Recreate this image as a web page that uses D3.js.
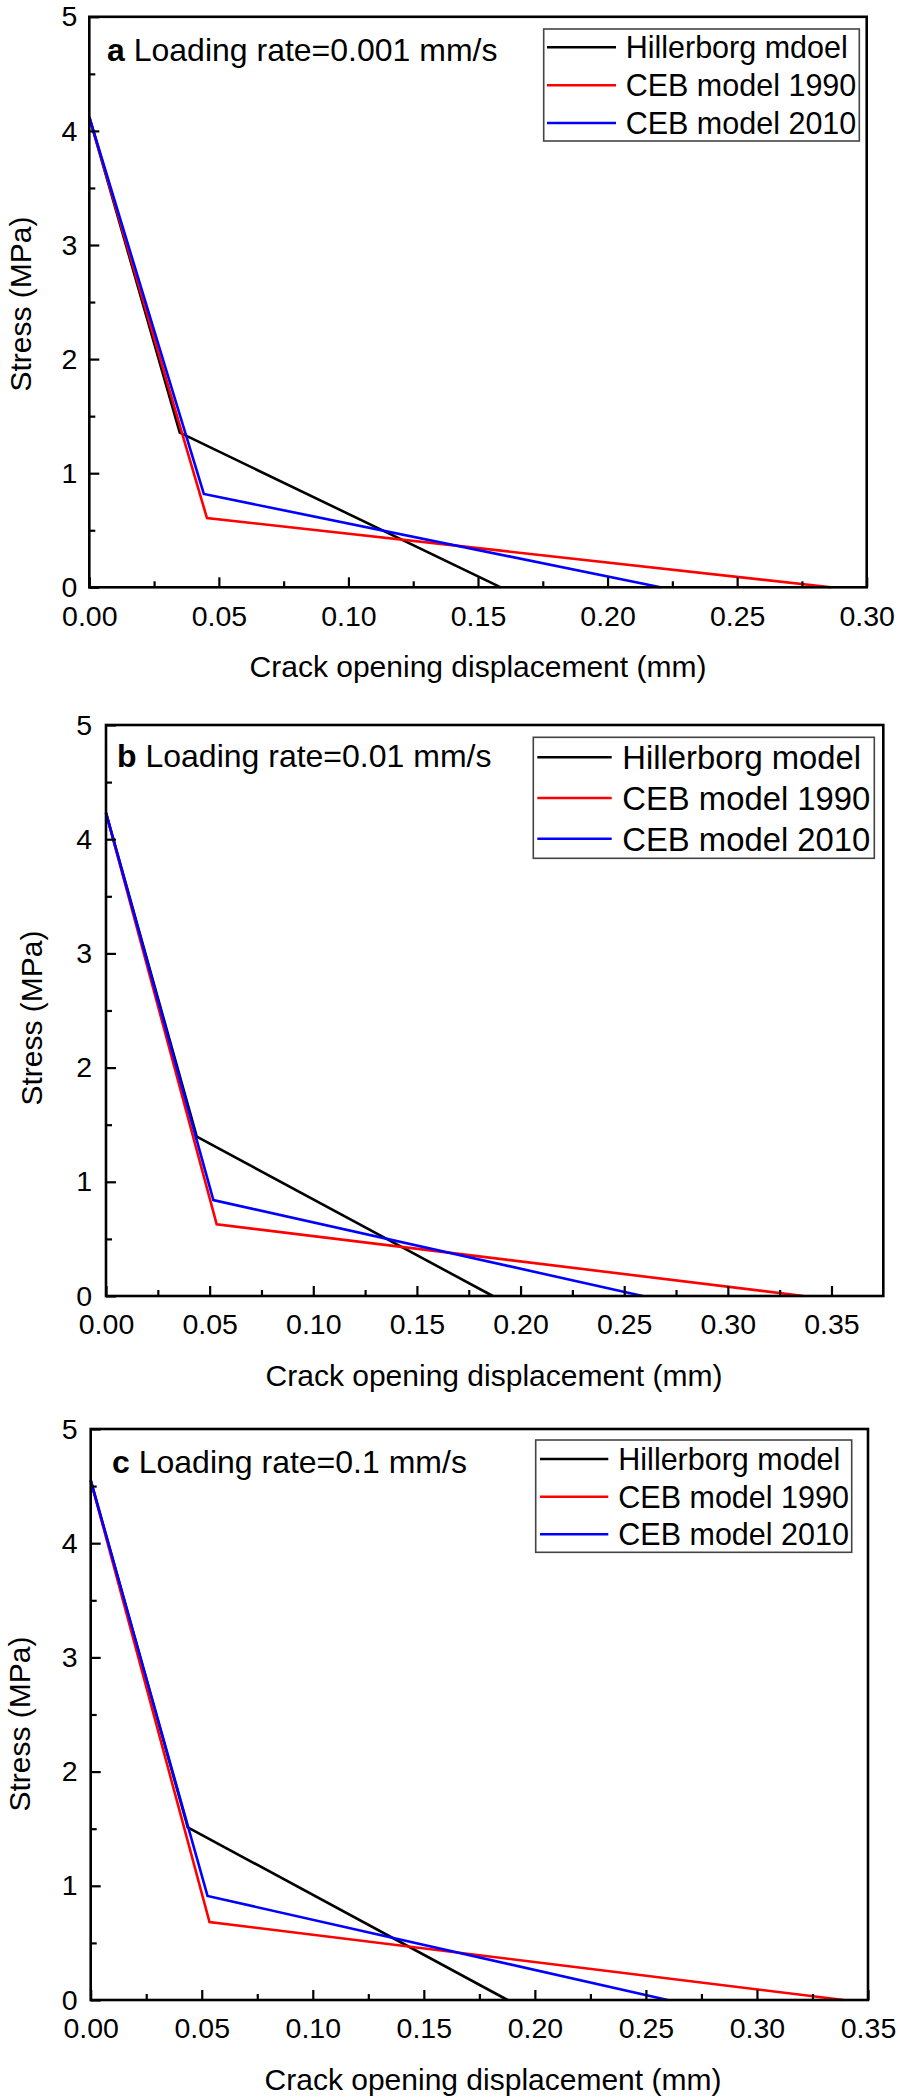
<!DOCTYPE html>
<html><head><meta charset="utf-8">
<script src="https://cdn.jsdelivr.net/npm/d3@7"></script>
<style>
body{margin:0;background:#fff}
svg{display:block}
text{font-family:"Liberation Sans",Arial,Helvetica,sans-serif;fill:#000}
</style>
</head><body>
<svg id="chart" width="898" height="2099"></svg>
<script>
// ---------- DATA ----------
const seriesColors = ["#000000", "#ff0000", "#0000ff"];
const legendA = ["Hillerborg mdoel", "CEB model 1990", "CEB model 2010"];
const legendB = ["Hillerborg model", "CEB model 1990", "CEB model 2010"];
const legendC = ["Hillerborg model", "CEB model 1990", "CEB model 2010"];
const panelLetters = ["a", "b", "c"];
const panelTexts = [" Loading rate=0.001 mm/s", " Loading rate=0.01 mm/s", " Loading rate=0.1 mm/s"];
const xTitle = "Crack opening displacement (mm)";
const yTitle = "Stress (MPa)";
const yTicks = [0, 1, 2, 3, 4, 5];
const yMinorTicks = [0.5, 1.5, 2.5, 3.5, 4.5];
const xTicksA = [0, 0.05, 0.10, 0.15, 0.20, 0.25, 0.30];
const xMinorA = [0.025, 0.075, 0.125, 0.175, 0.225, 0.275];
const xTicksBC = [0, 0.05, 0.10, 0.15, 0.20, 0.25, 0.30, 0.35];
const xMinorB = [0.025, 0.075, 0.125, 0.175, 0.225, 0.275, 0.325];
const xMinorC = [0.025, 0.075, 0.125, 0.175, 0.225, 0.275, 0.325];
const xMaxA = 0.30, xMaxB = 0.375, xMaxC = 0.35;

// panel a (0.001 mm/s)
const hillerborgA = [[0, 4.12], [0.0349, 1.355], [0.1588, 0]];
const ceb1990A    = [[0, 4.12], [0.0454, 0.607], [0.2862, 0]];
const ceb2010A    = [[0, 4.12], [0.0442, 0.818], [0.2204, 0]];
// panel b (0.01 mm/s)
const hillerborgB = [[0, 4.23], [0.0438, 1.395], [0.1866, 0]];
const ceb1990B    = [[0, 4.23], [0.0534, 0.628], [0.3366, 0]];
const ceb2010B    = [[0, 4.23], [0.0518, 0.840], [0.2589, 0]];
// panel c (0.1 mm/s)
const hillerborgC = [[0, 4.55], [0.0437, 1.512], [0.1877, 0]];
const ceb1990C    = [[0, 4.55], [0.0535, 0.683], [0.3391, 0]];
const ceb2010C    = [[0, 4.55], [0.0526, 0.911], [0.2598, 0]];

// ---------- LAYOUT ----------
const panels = [
  { x0: 89.3, x1: 866.7, y0: 587.3, y5: 16.8, xMax: xMaxA, xTicks: xTicksA, xMinor: xMinorA,
    series: [hillerborgA, ceb1990A, ceb2010A], legend: legendA,
    xLabPad: 18, yLabPad: 12, xTitleX: 478, yTitleX: 20, yTitleY: 304,
    annX: 107, annY: 61, annSize: 32,
    lg: { x: 543.7, y: 29, w: 315.6, h: 112, rows: [47.3, 85.3, 123], lx1: 547, lx2: 616, tx: 625.7, fs: 30.5 } },
  { x0: 106, x1: 883.3, y0: 1296, y5: 725, xMax: xMaxB, xTicks: xTicksBC, xMinor: xMinorB,
    series: [hillerborgB, ceb1990B, ceb2010B], legend: legendB,
    xLabPad: 18, yLabPad: 14, xTitleX: 494, yTitleX: 31, yTitleY: 1018,
    annX: 117, annY: 767, annSize: 32,
    lg: { x: 533.3, y: 737.3, w: 341, h: 121, rows: [757.3, 798, 838.7], lx1: 537.3, lx2: 611.7, tx: 622.3, fs: 32.8 } },
  { x0: 90.7, x1: 868, y0: 2000, y5: 1429, xMax: xMaxC, xTicks: xTicksBC, xMinor: xMinorC,
    series: [hillerborgC, ceb1990C, ceb2010C], legend: legendC,
    xLabPad: 18, yLabPad: 13, xTitleX: 493, yTitleX: 19, yTitleY: 1724,
    annX: 112, annY: 1472.7, annSize: 32,
    lg: { x: 535.7, y: 1440, w: 316, h: 112.3, rows: [1459, 1496.7, 1534.3], lx1: 540, lx2: 608.3, tx: 618.3, fs: 30.5 } }
];

const svg = d3.select("#chart");
svg.append("rect").attr("width", 898).attr("height", 2099).attr("fill", "#fff");

panels.forEach((p, i) => {
  const x = d3.scaleLinear().domain([0, p.xMax]).range([p.x0, p.x1]);
  const y = d3.scaleLinear().domain([0, 5]).range([p.y0, p.y5]);
  const g = svg.append("g");

  // data lines
  const line = d3.line().x(d => x(d[0])).y(d => y(d[1]));
  p.series.forEach((s, k) => {
    g.append("path").datum(s).attr("d", line)
      .attr("fill", "none").attr("stroke", seriesColors[k])
      .attr("stroke-width", 2.6).attr("stroke-linejoin", "miter");
  });

  // x axis major
  const xa = g.append("g").attr("transform", `translate(0,${p.y0})`)
    .call(d3.axisBottom(x).tickValues(p.xTicks).tickFormat(d3.format(".2f"))
      .tickSizeInner(-10).tickSizeOuter(0).tickPadding(p.xLabPad));
  xa.select(".domain").remove();
  xa.selectAll("line").attr("stroke", "#000").attr("stroke-width", 2.2);
  xa.selectAll("text").attr("font-size", 28.5).attr("font-family", "Liberation Sans, Arial, sans-serif").attr("fill", "#000");
  // x axis minor
  const xm = g.append("g").attr("transform", `translate(0,${p.y0})`)
    .call(d3.axisBottom(x).tickValues(p.xMinor).tickFormat("").tickSizeInner(-6).tickSizeOuter(0));
  xm.select(".domain").remove();
  xm.selectAll("line").attr("stroke", "#000").attr("stroke-width", 2.2);

  // y axis major
  const ya = g.append("g").attr("transform", `translate(${p.x0},0)`)
    .call(d3.axisLeft(y).tickValues(yTicks).tickFormat(d3.format("d"))
      .tickSizeInner(-10).tickSizeOuter(0).tickPadding(p.yLabPad));
  ya.select(".domain").remove();
  ya.selectAll("line").attr("stroke", "#000").attr("stroke-width", 2.2);
  ya.selectAll("text").attr("font-size", 28.5).attr("font-family", "Liberation Sans, Arial, sans-serif").attr("fill", "#000");
  const ym = g.append("g").attr("transform", `translate(${p.x0},0)`)
    .call(d3.axisLeft(y).tickValues(yMinorTicks).tickFormat("").tickSizeInner(-6).tickSizeOuter(0));
  ym.select(".domain").remove();
  ym.selectAll("line").attr("stroke", "#000").attr("stroke-width", 2.2);

  // frame
  g.append("rect").attr("x", p.x0).attr("y", p.y5)
    .attr("width", p.x1 - p.x0).attr("height", p.y0 - p.y5)
    .attr("fill", "none").attr("stroke", "#000").attr("stroke-width", 2.6);

  // axis titles
  g.append("text").attr("x", p.xTitleX).attr("y", p.y0 + 90)
    .attr("text-anchor", "middle").attr("font-size", 30).text(xTitle);
  g.append("text").attr("transform", `translate(${p.yTitleX},${p.yTitleY}) rotate(-90)`)
    .attr("text-anchor", "middle").attr("dy", "0.35em").attr("font-size", 30).text(yTitle);

  // annotation
  const ann = g.append("text").attr("x", p.annX).attr("y", p.annY).attr("font-size", p.annSize);
  ann.append("tspan").attr("font-weight", "bold").text(panelLetters[i]);
  ann.append("tspan").text(panelTexts[i]);

  // legend
  const L = p.lg;
  g.append("rect").attr("x", L.x).attr("y", L.y).attr("width", L.w).attr("height", L.h)
    .attr("fill", "#fff").attr("stroke", "#444").attr("stroke-width", 1.6);
  p.legend.forEach((name, k) => {
    g.append("line").attr("x1", L.lx1).attr("x2", L.lx2).attr("y1", L.rows[k]).attr("y2", L.rows[k])
      .attr("stroke", seriesColors[k]).attr("stroke-width", 2.4);
    g.append("text").attr("x", L.tx).attr("y", L.rows[k]).attr("dy", "0.36em")
      .attr("font-size", L.fs).text(name);
  });
});
</script>
</body></html>
